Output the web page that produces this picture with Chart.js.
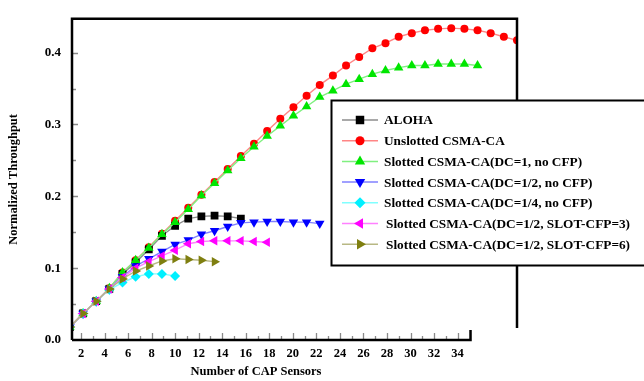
<!DOCTYPE html>
<html>
<head>
<meta charset="utf-8">
<script src="https://cdn.jsdelivr.net/npm/chart.js@4.4.0/dist/chart.umd.min.js"></script>
<style>
  html, body { margin: 0; padding: 0; background: #fff; }
  #wrap { width: 644px; height: 381px; }
</style>
</head>
<body>
<div id="wrap"><canvas id="myChart" width="644" height="381"></canvas></div>
<script>
'use strict';

// ******** DATA **********

let sensors = [1, 2, 3, 4, 5, 6, 7, 8, 9, 10, 11, 12, 13, 14, 15, 16, 17, 18, 19, 20, 21, 22, 23, 24, 25, 26, 27, 28, 29, 30, 31, 32, 33, 34, 35];

let alohaVals = [0.018, 0.037, 0.054, 0.071, 0.092, 0.108, 0.126, 0.145, 0.159, 0.169, 0.172, 0.173, 0.172, 0.169];
let unslottedVals = [0.018, 0.037, 0.054, 0.072, 0.094, 0.111, 0.129, 0.148, 0.166, 0.184, 0.202, 0.220, 0.238, 0.256, 0.273, 0.291, 0.308, 0.324, 0.340, 0.355, 0.368, 0.382, 0.394, 0.406, 0.413, 0.422, 0.427, 0.431, 0.433, 0.434, 0.433, 0.431, 0.427, 0.422, 0.417];
let slottedDc1Vals = [0.018, 0.037, 0.054, 0.072, 0.094, 0.111, 0.128, 0.147, 0.164, 0.182, 0.201, 0.218, 0.236, 0.253, 0.269, 0.284, 0.298, 0.312, 0.325, 0.338, 0.347, 0.356, 0.363, 0.370, 0.375, 0.379, 0.382, 0.382, 0.384, 0.384, 0.384, 0.382];
let slottedDcHalfVals = [0.018, 0.037, 0.054, 0.071, 0.088, 0.103, 0.113, 0.123, 0.133, 0.139, 0.147, 0.152, 0.158, 0.163, 0.164, 0.165, 0.165, 0.164, 0.164, 0.162];
let slottedDcQuarterVals = [0.018, 0.037, 0.054, 0.070, 0.080, 0.088, 0.092, 0.092, 0.089];
let cfp3Vals = [0.018, 0.037, 0.054, 0.071, 0.087, 0.100, 0.109, 0.117, 0.125, 0.134, 0.137, 0.138, 0.138, 0.138, 0.137, 0.136];
let cfp6Vals = [0.018, 0.037, 0.054, 0.071, 0.085, 0.096, 0.103, 0.110, 0.113, 0.112, 0.111, 0.109];

let seriesNames = ['ALOHA', 'Unslotted CSMA-CA', 'Slotted CSMA-CA(DC=1, no CFP)', 'Slotted CSMA-CA(DC=1/2, no CFP)', 'Slotted CSMA-CA(DC=1/4, no CFP)', 'Slotted CSMA-CA(DC=1/2, SLOT-CFP=3)', 'Slotted CSMA-CA(DC=1/2, SLOT-CFP=6)'];

let xTickLabels = [2, 4, 6, 8, 10, 12, 14, 16, 18, 20, 22, 24, 26, 28, 30, 32, 34];
let xMinorTicks = [3, 5, 7, 9, 11, 13, 15, 17, 19, 21, 23, 25, 27, 29, 31, 33];
let yTickLabels = [0, 0.1, 0.2, 0.3, 0.4];
let yMinorTicks = [0.05, 0.15, 0.25, 0.35];

// ********** HELPERS ***********

function toPoints(vals) {
  let pts = [];
  for (let i = 0; i < vals.length; i++) {
    pts.push({ x: sensors[i], y: vals[i] });
  }
  return pts;
}

function makeSet(i, vals, line, fill, style, rot, radius, order) {
  return {
    label: seriesNames[i],
    data: toPoints(vals),
    borderColor: line,
    backgroundColor: fill,
    pointBackgroundColor: fill,
    pointBorderColor: fill,
    pointStyle: style,
    pointRotation: rot,
    pointRadius: radius,
    pointBorderWidth: 0,
    borderWidth: 1.4,
    xAxisID: 'x',
    order: order
  };
}

function drawMarker(ctx, style, rot, x, y, r, color) {
  ctx.save();
  ctx.fillStyle = color;
  ctx.translate(x, y);
  ctx.rotate(rot * Math.PI / 180);
  ctx.beginPath();
  if (style === 'circle') {
    ctx.arc(0, 0, r, 0, Math.PI * 2);
  } else if (style === 'rect') {
    let s = r * Math.SQRT1_2;
    ctx.rect(-s, -s, 2 * s, 2 * s);
  } else if (style === 'rectRot') {
    ctx.moveTo(0, -r); ctx.lineTo(r, 0); ctx.lineTo(0, r); ctx.lineTo(-r, 0);
  } else {
    for (let k = 0; k < 3; k++) {
      let a = k * 2 * Math.PI / 3;
      ctx.lineTo(Math.sin(a) * r, -Math.cos(a) * r);
    }
  }
  ctx.closePath();
  ctx.fill();
  ctx.restore();
}

const serif = '"Liberation Serif", "Times New Roman", serif';

// frame, inward ticks, x title and the boxed legend
const framePlugin = {
  id: 'framePlugin',
  afterDraw(chart) {
    let ctx = chart.ctx;
    let area = chart.chartArea;
    let xs = chart.scales.xTicks;
    let ys = chart.scales.y;
    ctx.save();

    ctx.strokeStyle = '#8a8a8a';
    ctx.lineWidth = 1.3;
    ctx.beginPath();
    yTickLabels.concat(yMinorTicks).forEach(function (v) {
      let py = Math.round(ys.getPixelForValue(v)) + 0.5;
      let len = yTickLabels.includes(v) ? 5 : 3;
      if (v === 0) return;
      ctx.moveTo(area.left + 1, py);
      ctx.lineTo(area.left + 1 + len, py);
    });
    xTickLabels.concat(xMinorTicks).forEach(function (v) {
      let px = Math.round(xs.getPixelForValue(v)) + 0.5;
      let len = xTickLabels.includes(v) ? 6 : 3;
      ctx.moveTo(px, area.bottom - 1);
      ctx.lineTo(px, area.bottom - 1 - len);
    });
    ctx.stroke();

    // frame
    let stripEnd = xs.getPixelForValue(35.1);
    ctx.strokeStyle = '#000';
    ctx.lineWidth = 2.5;
    ctx.beginPath();
    ctx.moveTo(area.left, area.bottom);
    ctx.lineTo(area.left, area.top);
    ctx.lineTo(area.right, area.top);
    ctx.lineTo(area.right, area.bottom - 12);
    ctx.moveTo(area.left, area.bottom);
    ctx.lineTo(stripEnd, area.bottom);
    ctx.lineTo(stripEnd, area.bottom - 10);
    ctx.stroke();

    // x title
    ctx.fillStyle = '#000';
    ctx.font = 'bold 12.5px ' + serif;
    ctx.textAlign = 'center';
    ctx.textBaseline = 'middle';
    ctx.fillText('Number of CAP Sensors', 256, 372);

    // legend box
    let bx = 331.5, by = 100.5;
    ctx.fillStyle = '#fff';
    ctx.fillRect(bx, by, 330, 165);
    ctx.lineWidth = 2;
    ctx.strokeStyle = '#000';
    ctx.strokeRect(bx, by, 330, 165);
    ctx.font = 'bold 13.3px ' + serif;
    ctx.textAlign = 'left';
    chart.data.datasets.forEach(function (ds, i) {
      let ry = 120 + i * 20.7;
      ctx.strokeStyle = ds.borderColor;
      ctx.lineWidth = 1.5;
      ctx.beginPath();
      ctx.moveTo(342, ry);
      ctx.lineTo(378, ry);
      ctx.stroke();
      drawMarker(ctx, ds.pointStyle, ds.pointRotation, 360, ry, ds.pointRadius + 0.5, ds.pointBackgroundColor);
      ctx.fillStyle = '#000';
      ctx.fillText(ds.label, i >= 5 ? 386 : 384, ry + 1);
    });
    ctx.restore();
  }
};

// ********** CHART *************

let ctx = document.getElementById('myChart').getContext('2d');

let myChartObj = {
  type: 'line',
  data: {
    datasets: [
      makeSet(0, alohaVals, '#8c8c8c', '#000000', 'rect', 0, 5.5, 5),
      makeSet(1, unslottedVals, '#ff8585', '#ff0000', 'circle', 0, 4, 6),
      makeSet(2, slottedDc1Vals, '#80f080', '#00e600', 'triangle', 0, 5.5, 4),
      makeSet(3, slottedDcHalfVals, '#8080ff', '#0000ff', 'triangle', 180, 5.5, 3),
      makeSet(4, slottedDcQuarterVals, '#80ffff', '#00f0ff', 'rectRot', 0, 5, 2),
      makeSet(5, cfp3Vals, '#ff80ff', '#ff00ff', 'triangle', 270, 5.5, 1),
      makeSet(6, cfp6Vals, '#b8b884', '#7f7f10', 'triangle', 90, 5.5, 0)
    ]
  },
  options: {
    responsive: false,
    animation: false,
    layout: { padding: { left: 0, top: 15, right: 127, bottom: 0 } },
    plugins: {
      legend: { display: false },
      tooltip: { enabled: false }
    },
    scales: {
      x: {
        type: 'linear',
        display: false,
        min: 1.16,
        max: 35.0
      },
      xTicks: {
        type: 'linear',
        position: 'bottom',
        min: 1.235,
        max: 39.05,
        grid: { display: false, drawTicks: false },
        border: { display: false },
        afterFit: function (s) { s.height = 41; },
        ticks: {
          stepSize: 1,
          autoSkip: false,
          maxRotation: 0,
          includeBounds: false,
          padding: 6,
          color: '#000',
          font: { family: serif, size: 12.5, weight: 'bold' },
          callback: function (v) {
            return xTickLabels.includes(v) ? String(v) : '';
          }
        }
      },
      y: {
        type: 'linear',
        min: 0,
        max: 0.447,
        grid: { display: false, drawTicks: false },
        border: { display: false },
        afterFit: function (s) { s.width = 72; },
        title: {
          display: true,
          text: 'Normalized Throughput',
          color: '#000',
          padding: { top: 6, bottom: 0 },
          font: { family: serif, size: 12.5, weight: 'bold' }
        },
        ticks: {
          stepSize: 0.1,
          includeBounds: false,
          padding: 11,
          color: '#000',
          font: { family: serif, size: 13, weight: 'bold' },
          callback: function (v) { return v.toFixed(1); }
        }
      }
    }
  },
  plugins: [framePlugin]
};

new Chart(ctx, myChartObj);
</script>
</body>
</html>
